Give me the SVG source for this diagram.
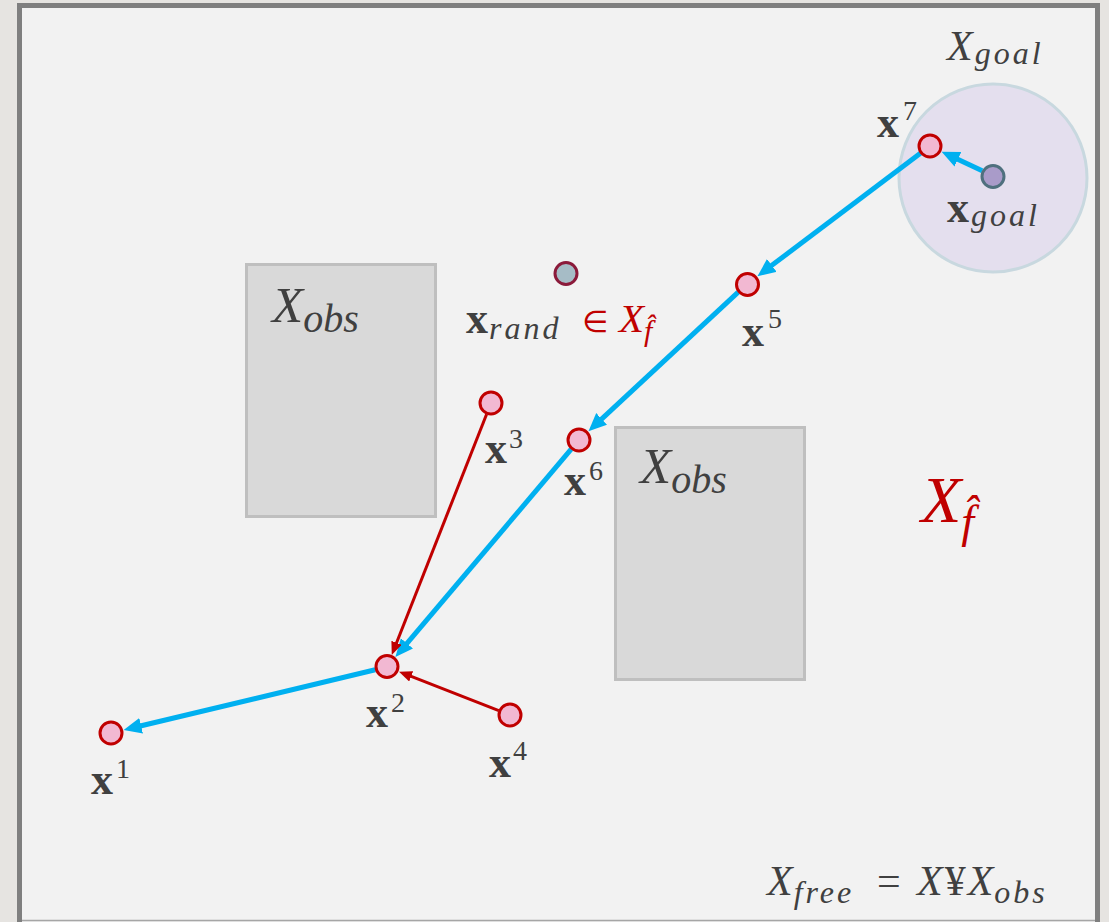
<svg xmlns="http://www.w3.org/2000/svg" width="1109" height="922" viewBox="0 0 1109 922">
<style>
.obs{fill:#d9d9d9;stroke:#bfbfbf;stroke-width:3}
.node{fill:#f2b8d2;stroke:#c00000;stroke-width:3}
.blue{stroke:#00b0f0;stroke-width:5;fill:none}
.red{stroke:#c00000;stroke-width:3;fill:none}
.bx{font-family:"Liberation Serif",serif;font-weight:bold;font-size:44px;fill:#404040}
.sup{font-family:"Liberation Serif",serif;font-size:28px;fill:#404040}
.it{font-family:"Liberation Serif",serif;font-style:italic;fill:#404040}
.sub{font-family:"Liberation Serif",serif;font-style:italic;font-weight:normal;font-size:32px;letter-spacing:3px}
.rd{fill:#c00000}
</style>
<defs>
<marker id="ab" markerUnits="userSpaceOnUse" markerWidth="20" markerHeight="18" refX="2" refY="8" orient="auto">
<path d="M0,0 L18,8 L0,16 z" fill="#00b0f0"/>
</marker>
<marker id="ar" markerUnits="userSpaceOnUse" markerWidth="14" markerHeight="12" refX="2" refY="5.5" orient="auto">
<path d="M0,0 L13,5.5 L0,11 z" fill="#c00000"/>
</marker>
</defs>
<rect x="0" y="0" width="1109" height="922" fill="#e6e4e1"/>
<rect x="19.5" y="5.5" width="1078" height="930" fill="#f2f2f2" stroke="#7f7f7f" stroke-width="5"/>
<line x1="22" y1="920.5" x2="1095" y2="920.5" stroke="#a6a6a6" stroke-width="1.5"/>

<g id="obstacle1"><rect class="obs" x="246.5" y="264.5" width="189" height="252"/>
<text class="it" x="272" y="322" font-size="51">X<tspan font-size="40" dy="10">obs</tspan></text></g>
<g id="obstacle2"><rect class="obs" x="615.5" y="427.5" width="189" height="252"/>
<text class="it" x="640" y="483" font-size="51">X<tspan font-size="40" dy="10">obs</tspan></text></g>

<g id="goal-region"><circle cx="993" cy="178" r="94" fill="#e4dfee" stroke="#c8d8df" stroke-width="3"/>
<text class="it" x="947" y="60" font-size="42">X<tspan class="sub" dx="2" dy="4">goal</tspan></text></g>

<g id="connectors">
<line class="blue" x1="982.2" y1="170.8" x2="956.1" y2="158.5" marker-end="url(#ab)"/>
<line class="blue" x1="920.4" y1="153.2" x2="770.2" y2="266.6" marker-end="url(#ab)"/>
<line class="blue" x1="738.2" y1="292.2" x2="600.2" y2="420.3" marker-end="url(#ab)"/>
<line class="blue" x1="571.2" y1="449.2" x2="405.7" y2="644.9" marker-end="url(#ab)"/>
<line class="blue" x1="375.3" y1="669.8" x2="139.2" y2="726.3" marker-end="url(#ab)"/>
<line class="red" x1="486.6" y1="414.2" x2="395.8" y2="644.7" marker-end="url(#ar)"/>
<line class="red" x1="498.8" y1="710.6" x2="409.3" y2="675.7" marker-end="url(#ar)"/>
</g>

<g id="x-goal"><circle cx="993" cy="176.5" r="11" fill="#a99bc9" stroke="#4f707e" stroke-width="3"/>
<text class="bx" x="947" y="222">x<tspan class="sub" fill="#404040" dx="2" dy="4">goal</tspan></text></g>
<g id="x7"><circle class="node" cx="930" cy="146" r="11"/>
<text class="bx" x="877" y="137">x</text><text class="sup" x="903" y="120">7</text></g>
<g id="x5"><circle class="node" cx="747.5" cy="284.5" r="11"/>
<text class="bx" x="742" y="346">x</text><text class="sup" x="768" y="328">5</text></g>
<g id="x6"><circle class="node" cx="579" cy="440" r="11"/>
<text class="bx" x="564" y="495">x</text><text class="sup" x="589" y="480">6</text></g>
<g id="x3"><circle class="node" cx="491" cy="403" r="11"/>
<text class="bx" x="485" y="463">x</text><text class="sup" x="509" y="448">3</text></g>
<g id="x2"><circle class="node" cx="387" cy="666.5" r="11"/>
<text class="bx" x="366" y="727">x</text><text class="sup" x="391" y="712">2</text></g>
<g id="x4"><circle class="node" cx="510" cy="715" r="11"/>
<text class="bx" x="489" y="777">x</text><text class="sup" x="513" y="760">4</text></g>
<g id="x1"><circle class="node" cx="111" cy="733" r="11"/>
<text class="bx" x="91" y="794">x</text><text class="sup" x="116" y="778">1</text></g>

<g id="x-rand"><circle cx="566" cy="273.5" r="11" fill="#a6bcc6" stroke="#8b1a3a" stroke-width="3"/>
<text class="bx" x="466" y="333">x<tspan class="sub" fill="#404040" dx="1" dy="6">rand</tspan></text>
<text class="rd" font-family="'DejaVu Sans',sans-serif" font-size="30" x="582" y="332">∈</text>
<text class="it rd" x="619" y="332" font-size="41">X<tspan font-size="30" dy="9">f̂</tspan></text>
</g>

<g id="x-fhat-label">
<text class="it rd" x="921" y="522" font-size="66">X<tspan font-size="46" dy="15">f̂</tspan></text>
</g>

<g id="x-free-label">
<text class="it" x="767" y="895" font-size="42">X<tspan class="sub" dx="1" dy="8">free</tspan></text>
<text font-family="'Liberation Serif',serif" font-size="42" fill="#404040" x="877" y="895">=</text>
<text class="it" x="917" y="895" font-size="42">X<tspan font-style="normal" dx="2">¥</tspan><tspan dx="2">X</tspan><tspan class="sub" dx="1" dy="8">obs</tspan></text>
</g>
</svg>
